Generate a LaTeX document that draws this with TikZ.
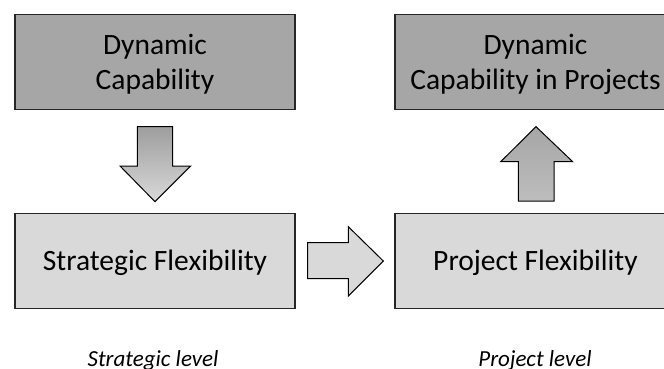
\documentclass[tikz,border=0pt]{standalone}
\usepackage{fontspec}
\setmainfont{Carlito}
\begin{document}
\begin{tikzpicture}[x=1pt,y=-1pt,
  box/.style={draw=black!85,line width=1.3pt,minimum width=280pt,minimum height=94.5pt,
    inner sep=0pt,align=center,font=\fontsize{29.5}{35}\selectfont,
    text height=19pt,text depth=0pt},
  darkbox/.style={box,fill=darkfill},
  lightbox/.style={box,fill=lightfill},
  twoline/.style={text height=54pt,text depth=0pt},
  levellabel/.style={anchor=base,inner sep=0pt,font=\fontsize{23}{27}\selectfont\itshape},
  blockarrow/.style={draw=black,line width=1pt,line join=miter}]
\definecolor{darkfill}{HTML}{A6A6A6}
\definecolor{lightfill}{HTML}{D9D9D9}
\useasboundingbox (0,0) rectangle (664,369);
\clip (0,0) rectangle (664,369);

% boxes
\node[darkbox,twoline] (dc) at (155,62) {Dynamic\\Capability};
\node[darkbox,twoline,minimum width=281pt] (dcp) at (535.5,62) {Dynamic\\Capability in Projects};
\node[lightbox] (sf) at (155,261) {Strategic Flexibility};
\node[lightbox,minimum width=281pt] (pf) at (535.5,261) {Project Flexibility};

% level captions
\node[levellabel] (sl) at (153,366.5) {Strategic level};
\node[levellabel] (pl) at (535,366.5) {Project level};

% block arrows
\draw[blockarrow,top color=darkfill!95!black,bottom color=lightfill]
  (137.3,126.7) -- (172.7,126.7) -- (172.7,166) -- (190.7,166) -- (155,201.7)
  -- (120,166) -- (137.3,166) -- cycle;
\draw[blockarrow,top color=darkfill,bottom color=darkfill!55!lightfill]
  (536,126.7) -- (572.7,161.7) -- (554,161.7) -- (554,201) -- (518.3,201)
  -- (518.3,161.7) -- (500.7,161.7) -- cycle;
\draw[blockarrow,fill=lightfill]
  (307.7,242.7) -- (348.3,242.7) -- (348.3,226.7) -- (383.3,261) -- (348.3,296)
  -- (348.3,278.7) -- (307.7,278.7) -- cycle;
\end{tikzpicture}
\end{document}
